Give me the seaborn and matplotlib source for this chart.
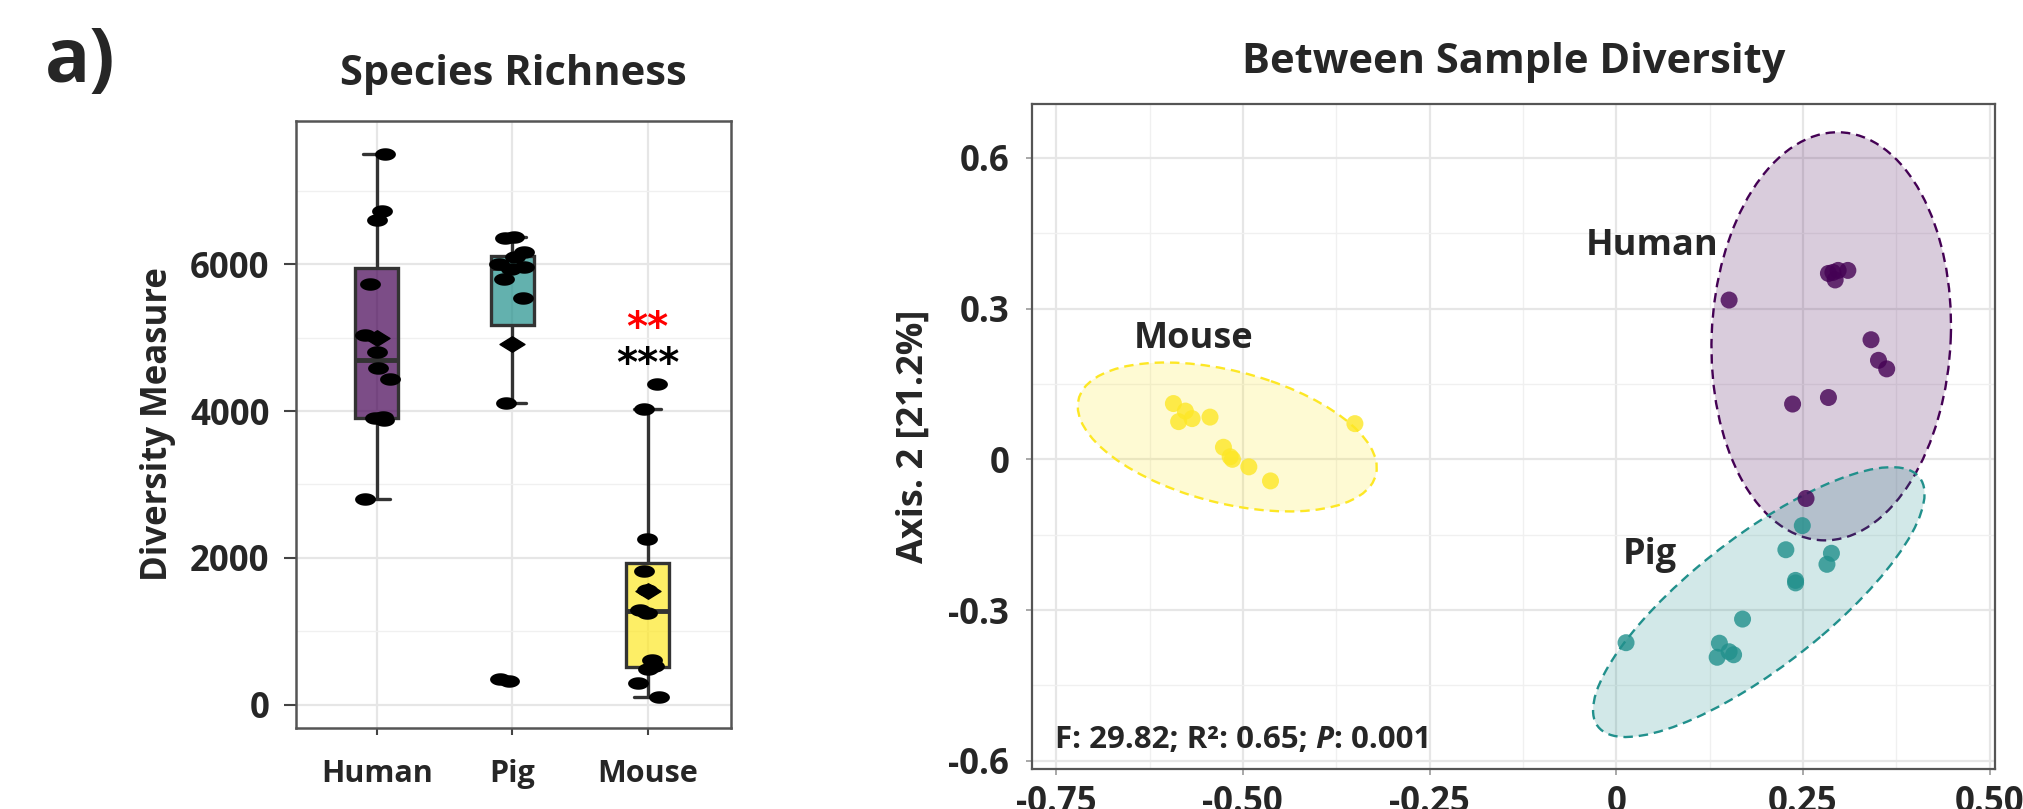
import numpy as np
import pandas as pd
import matplotlib
matplotlib.use("Agg")
import matplotlib.pyplot as plt
from matplotlib.patches import Ellipse
from matplotlib.path import Path
from matplotlib.ticker import MultipleLocator
from matplotlib.colors import to_rgba
import seaborn as sns

# ---------------- data ----------------
groups = ["Human", "Pig", "Mouse"]
group_colors = ["#440154", "#21908C", "#FDE725"]

human_richness = [2800, 3880, 3900, 3915, 4440, 4590, 4810, 5030, 5730, 6600, 6720, 7500]
pig_richness = [324, 350, 4111, 5535, 5800, 5930, 5960, 6000, 6096, 6161, 6355, 6366]
mouse_richness = [97, 297, 480, 520, 604, 1250, 1290, 1560, 1820, 2250, 4030, 4370]

human_ax1 = [0.151, 0.284, 0.290, 0.297, 0.310, 0.293, 0.341, 0.351, 0.362, 0.236, 0.284, 0.254]
human_ax2 = [0.317, 0.370, 0.372, 0.376, 0.376, 0.357, 0.238, 0.197, 0.180, 0.110, 0.123, -0.078]
pig_ax1 = [0.249, 0.227, 0.288, 0.282, 0.240, 0.240, 0.169, 0.013, 0.138, 0.135, 0.151, 0.157]
pig_ax2 = [-0.132, -0.180, -0.187, -0.209, -0.241, -0.246, -0.318, -0.365, -0.366, -0.394, -0.383, -0.389]
mouse_ax1 = [-0.593, -0.577, -0.586, -0.568, -0.544, -0.526, -0.517, -0.514, -0.492, -0.463, -0.350]
mouse_ax2 = [0.111, 0.096, 0.075, 0.081, 0.084, 0.024, 0.005, 0.000, -0.015, -0.043, 0.071]

richness_yticks = [0, 2000, 4000, 6000]
pcoa_xticks = [-0.75, -0.50, -0.25, 0, 0.25, 0.50]
pcoa_xticklabels = ["-0.75", "-0.50", "-0.25", "0", "0.25", "0.50"]
pcoa_yticks = [-0.6, -0.3, 0, 0.3, 0.6]
pcoa_yticklabels = ["-0.6", "-0.3", "0", "0.3", "0.6"]
stats_text = ("F: 29.82; R\u00b2: 0.65; ", "P", ": 0.001")

# ---------------- style ----------------
sns.set_style("whitegrid")
plt.rcParams["font.family"] = ["Open Sans", "DejaVu Sans"]
plt.rcParams["font.weight"] = "bold"
plt.rcParams["axes.titleweight"] = "bold"
plt.rcParams["axes.labelweight"] = "bold"

W, H = 2024, 809
fig = plt.figure(figsize=(W / 100, H / 100), dpi=100)

grid_major = dict(color="#E6E6E6", linewidth=1.6)
grid_minor = dict(color="#F0F0F0", linewidth=1.0)
spine_col = "#555555"

# ---------------- left: species richness ----------------
axL = fig.add_axes([296 / W, 1 - 728 / H, 435 / W, 607 / H])
df_r = pd.DataFrame({
    "group": ["Human"] * len(human_richness) + ["Pig"] * len(pig_richness) + ["Mouse"] * len(mouse_richness),
    "value": human_richness + pig_richness + mouse_richness,
})
pal = dict(zip(groups, group_colors))

t = np.linspace(0, 2 * np.pi, 40)
oval = Path(np.column_stack([np.cos(t), 0.6 * np.sin(t)]), closed=True)
diamond = Path([(-1, 0), (0, 0.62), (1, 0), (0, -0.62), (-1, 0)], closed=True)

sns.boxplot(data=df_r, x="group", y="value", hue="group", order=groups, hue_order=groups,
            palette=pal, saturation=1, width=0.32, linecolor="#333333", linewidth=2.4,
            showfliers=False, showmeans=True, capwidths=0.2,
            meanprops=dict(marker=diamond, markerfacecolor="black", markeredgecolor="black",
                           markersize=18),
            medianprops=dict(linewidth=3.5, color="#333333"),
            legend=False, ax=axL)
for p in axL.patches:
    fc = p.get_facecolor()
    p.set_facecolor((fc[0], fc[1], fc[2], 0.7))

np.random.seed(7)
sns.stripplot(data=df_r, x="group", y="value", order=groups, color="black", jitter=0.1,
              size=15, marker=oval, linewidth=0, ax=axL, zorder=5)

axL.set_xlim(-0.596, 2.615)
axL.set_ylim(-320, 7953)
axL.set_yticks(richness_yticks)
axL.set_yticklabels([str(v) for v in richness_yticks])
axL.yaxis.set_minor_locator(MultipleLocator(1000))
axL.set_axisbelow(True)
axL.grid(True, which="major", axis="both", **grid_major)
axL.grid(True, which="minor", axis="y", **grid_minor)
axL.tick_params(axis="y", which="major", labelsize=25, length=9, width=1.5, color="#444444", pad=10, left=True)
axL.tick_params(axis="x", which="major", labelsize=22, length=5, width=1.5, color="#444444", pad=17, bottom=True)
axL.tick_params(which="minor", length=0)
axL.set_xlabel("")
axL.set_ylabel("Diversity Measure", fontsize=25, fontweight="bold", labelpad=10)
axL.set_title("Species Richness", fontsize=30, fontweight="bold", pad=26)
for s in axL.spines.values():
    s.set_color(spine_col)
    s.set_linewidth(1.8)

# significance asterisks above Mouse
axL.text(2, 5120, "**", color="red", fontsize=29, fontweight="bold", ha="center", va="center",
         family="DejaVu Sans")
axL.text(2, 4630, "***", color="black", fontsize=29, fontweight="bold", ha="center", va="center",
         family="DejaVu Sans")

# ---------------- right: PCoA ----------------
axR = fig.add_axes([1031.5 / W, 1 - 768.8 / H, 963.5 / W, 665.2 / H])
df_p = pd.DataFrame({
    "group": ["Human"] * len(human_ax1) + ["Pig"] * len(pig_ax1) + ["Mouse"] * len(mouse_ax1),
    "ax1": human_ax1 + pig_ax1 + mouse_ax1,
    "ax2": human_ax2 + pig_ax2 + mouse_ax2,
})


def conf_ellipse(x, y, color, ax, level=0.95):
    x = np.asarray(x)
    y = np.asarray(y)
    n = len(x)
    cov = np.cov(x, y)
    vals, vecs = np.linalg.eigh(cov)
    d = n - 1
    fq = (d / 2.0) * ((1 - level) ** (-2.0 / d) - 1)  # F(2, d) quantile (closed form)
    r = np.sqrt(2 * fq)
    ang = np.degrees(np.arctan2(vecs[1, 1], vecs[0, 1]))
    e = Ellipse((x.mean(), y.mean()), width=2 * r * np.sqrt(vals[1]), height=2 * r * np.sqrt(vals[0]),
                angle=ang, facecolor=to_rgba(color, 0.2), edgecolor=color, linewidth=1.7,
                linestyle=(0, (4, 2.5)), zorder=2)
    ax.add_patch(e)


for g, c in zip(groups, group_colors):
    sub = df_p[df_p.group == g]
    conf_ellipse(sub.ax1, sub.ax2, c, axR)

sns.scatterplot(data=df_p, x="ax1", y="ax2", hue="group", hue_order=groups, palette=pal,
                s=150, alpha=0.8, linewidth=0, legend=False, ax=axR, zorder=3)

axR.set_xlim(-0.783, 0.507)
axR.set_ylim(-0.616, 0.708)
axR.set_xticks(pcoa_xticks)
axR.set_xticklabels(pcoa_xticklabels)
axR.set_yticks(pcoa_yticks)
axR.set_yticklabels(pcoa_yticklabels)
axR.xaxis.set_minor_locator(MultipleLocator(0.125))
axR.yaxis.set_minor_locator(MultipleLocator(0.15))
axR.set_axisbelow(True)
axR.grid(True, which="major", **grid_major)
axR.grid(True, which="minor", **grid_minor)
axR.tick_params(axis="both", which="major", labelsize=25, length=4, width=1.2, color="#999999",
                left=True, bottom=True)
axR.tick_params(axis="y", which="major", pad=12)
axR.tick_params(axis="x", which="major", pad=8)
axR.tick_params(which="minor", length=0)
axR.set_xlabel("")
axR.set_ylabel("Axis. 2 [21.2%]", fontsize=26, fontweight="bold", labelpad=12)
axR.set_title("Between Sample Diversity", fontsize=30, fontweight="bold", pad=22)
for s in axR.spines.values():
    s.set_color(spine_col)
    s.set_linewidth(1.6)

axR.text(0.048, 0.424, "Human", fontsize=26, fontweight="bold", ha="center", va="center", zorder=6)
axR.text(-0.566, 0.239, "Mouse", fontsize=26, fontweight="bold", ha="center", va="center", zorder=6)
axR.text(0.045, -0.19, "Pig", fontsize=26, fontweight="bold", ha="center", va="center", zorder=6)

t1 = axR.text(-0.752, -0.588, stats_text[0], fontsize=22.5, fontweight="bold", ha="left", va="bottom", zorder=6)
t2 = axR.annotate(stats_text[1], xy=(1, 0), xycoords=t1, fontsize=22.5, fontweight="bold",
                  fontstyle="italic", ha="left", va="bottom", zorder=6)
axR.annotate(stats_text[2], xy=(1, 0), xycoords=t2, fontsize=22.5, fontweight="bold",
             ha="left", va="bottom", zorder=6)

fig.text(80 / W, 1 - 62 / H, "a)", fontsize=54, fontweight="bold", ha="center", va="center")

fig.savefig("out.png", dpi=100)
